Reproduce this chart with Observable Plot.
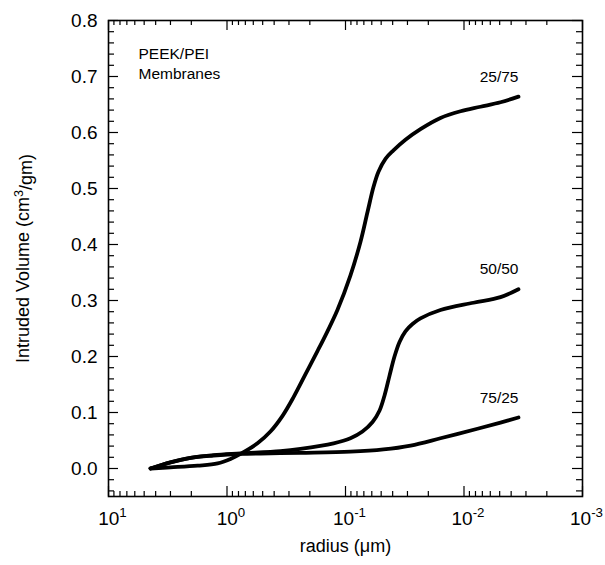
<!DOCTYPE html>
<html><head><meta charset="utf-8">
<script src="https://cdn.jsdelivr.net/npm/d3@7"></script>
<script src="https://cdn.jsdelivr.net/npm/@observablehq/plot@0.6"></script>
<style>body{margin:0;background:#fff}</style>
</head><body><div id="chart"></div>
<script>
// ---- data (radius in µm, intruded volume in cm3/gm) ----
const seriesNames = ["25/75", "50/50", "75/25"];
const r25_75 = [4.42, 3.00, 1.77, 1.20, 0.934, 0.769, 0.553, 0.430, 0.340, 0.275, 0.218, 0.172, 0.142, 0.117, 0.0908, 0.0747, 0.0652, 0.0580, 0.0527, 0.0460, 0.0394, 0.0312, 0.0233, 0.0158, 0.0107, 0.00726, 0.00492, 0.00347];
const v25_75 = [0, 0.002, 0.005, 0.009, 0.017, 0.026, 0.045, 0.066, 0.094, 0.127, 0.168, 0.21, 0.245, 0.283, 0.345, 0.405, 0.458, 0.503, 0.53, 0.553, 0.568, 0.587, 0.606, 0.626, 0.638, 0.646, 0.654, 0.664];
const r50_50 = [4.42, 3.00, 2.03, 1.30, 0.769, 0.354, 0.240, 0.126, 0.0908, 0.0719, 0.0591, 0.0517, 0.0469, 0.0426, 0.0386, 0.0350, 0.0312, 0.0272, 0.0233, 0.0158, 0.00832, 0.00492, 0.00347];
const v50_50 = [0, 0.011, 0.019, 0.024, 0.027, 0.031, 0.035, 0.045, 0.054, 0.066, 0.083, 0.103, 0.13, 0.165, 0.2, 0.226, 0.245, 0.258, 0.268, 0.283, 0.296, 0.306, 0.32];
const r75_25 = [4.42, 3.00, 2.03, 1.30, 0.769, 0.430, 0.240, 0.0908, 0.0478, 0.0282, 0.0158, 0.00769, 0.00492, 0.00347];
const v75_25 = [0, 0.011, 0.019, 0.023, 0.026, 0.027, 0.028, 0.030, 0.034, 0.041, 0.054, 0.071, 0.082, 0.091];

const xTickValues = [10, 1, 0.1, 0.01, 0.001];
const xTickLabels = ["10^1", "10^0", "10^-1", "10^-2", "10^-3"];
const yTickValues = [0, 0.1, 0.2, 0.3, 0.4, 0.5, 0.6, 0.7, 0.8];
const yTickLabels = ["0.0", "0.1", "0.2", "0.3", "0.4", "0.5", "0.6", "0.7", "0.8"];
const xDomain = [10, 0.001];
const yDomain = [-0.05, 0.8];
const xTitle = "radius (\u03bcm)";
const yTitle = "Intruded Volume (cm\u00b3/gm)";
const noteText = "PEEK/PEI\nMembranes";

// ---- build table ----
const seriesR = [r25_75, r50_50, r75_25];
const seriesV = [v25_75, v50_50, v75_25];
const rows = [];
seriesNames.forEach((s, i) => seriesR[i].forEach((r, j) => rows.push({series: s, r, v: seriesV[i][j]})));
const ends = seriesNames.map((s, i) => ({series: s, r: seriesR[i][seriesR[i].length - 1], v: seriesV[i][seriesV[i].length - 1]}));

// minor ticks (2..9 within each decade)
const xMinorAll = [10, 1, 0.1, 0.01].flatMap(dec => [2,3,4,5,6,7,8,9].map(m => +(m * dec / 10).toPrecision(3)));
const yMinor = d3.range(-4, 80, 2).map(d => d / 100).filter(d => Math.abs(Math.round(d * 10) - d * 10) > 1e-6);

const W = 605, H = 565, mt = 20, mr = 23, mb = 69, ml = 108;
const PW = W - ml - mr, PH = H - mt - mb;
const font = "Liberation Sans, Arial, Helvetica, sans-serif";
const tk = {stroke: "black", strokeWidth: 1.2};

const chart = Plot.plot({
  width: W, height: H,
  marginTop: mt, marginRight: mr, marginBottom: mb, marginLeft: ml,
  style: {fontFamily: font, background: "white", color: "black"},
  x: {type: "log", domain: xDomain, axis: null},
  y: {domain: yDomain, axis: null},
  marks: [
    // ticks (inward)
    Plot.ruleX(xTickValues, {x: d => d, insetTop: PH - 10, ...tk}),
    Plot.ruleX(xTickValues, {x: d => d, insetBottom: PH - 10, ...tk}),
    Plot.ruleX(xMinorAll, {x: d => d, insetTop: PH - 5, ...tk}),
    Plot.ruleX(xMinorAll, {x: d => d, insetBottom: PH - 5, ...tk}),
    Plot.ruleY(yTickValues, {y: d => d, insetRight: PW - 10, ...tk}),
    Plot.ruleY(yTickValues, {y: d => d, insetLeft: PW - 10, ...tk}),
    Plot.ruleY(yMinor, {y: d => d, insetRight: PW - 6, ...tk}),
    Plot.ruleY(yMinor, {y: d => d, insetLeft: PW - 6, ...tk}),
    Plot.frame({stroke: "black", strokeWidth: 1.6}),
    // curves
    Plot.line(rows, {x: "r", y: "v", z: "series", stroke: "black", strokeWidth: 3.8, curve: "catmull-rom", strokeLinecap: "round", strokeLinejoin: "round"}),
    // series labels
    Plot.text(ends, {x: "r", y: "v", text: "series", textAnchor: "end", dy: -20, fontSize: 15.5, fill: "black"}),
    // tick labels
    Plot.text(xTickValues, {x: d => d, y: yDomain[0], text: (d, i) => xTickLabels[i], dy: 22, dx: 4, fontSize: 19, fill: "black", lineAnchor: "middle"}),
    Plot.text(yTickValues, {x: xDomain[0], y: d => d, text: (d, i) => yTickLabels[i], textAnchor: "end", dx: -11, fontSize: 19, fill: "black"}),
    // titles
    Plot.text([xTitle], {frameAnchor: "bottom", text: d => d, dy: 55, textAnchor: "middle", fontSize: 18, fill: "black"}),
    Plot.text([yTitle], {frameAnchor: "left", text: d => d, dx: -85, rotate: -90, textAnchor: "middle", fontSize: 18, fill: "black"}),
    Plot.text([noteText], {frameAnchor: "top-left", text: d => d, dx: 30, dy: 42, textAnchor: "start", lineAnchor: "middle", lineHeight: 1.33, fontSize: 15.5, fill: "black"})
  ]
});
document.getElementById("chart").appendChild(chart);

// superscripts for the power-of-ten tick labels and the cm³ unit
d3.select(chart).selectAll("text").each(function () {
  const t = this.textContent;
  const m = /^10\^(.+)$/.exec(t);
  if (m) {
    const el = d3.select(this);
    el.text("");
    el.append("tspan").text("10");
    el.append("tspan").attr("dy", "-0.55em").attr("font-size", "70%").text(m[1]);
  }
  const m2 = /^(.*cm)\u00b3(\/gm\))$/.exec(t);
  if (m2) {
    const el = d3.select(this);
    el.text("");
    el.append("tspan").text(m2[1]);
    el.append("tspan").attr("dy", "-0.5em").attr("font-size", "70%").text("3");
    el.append("tspan").attr("dy", "0.5em").text(m2[2]);
  }
});
</script>
</body></html>
